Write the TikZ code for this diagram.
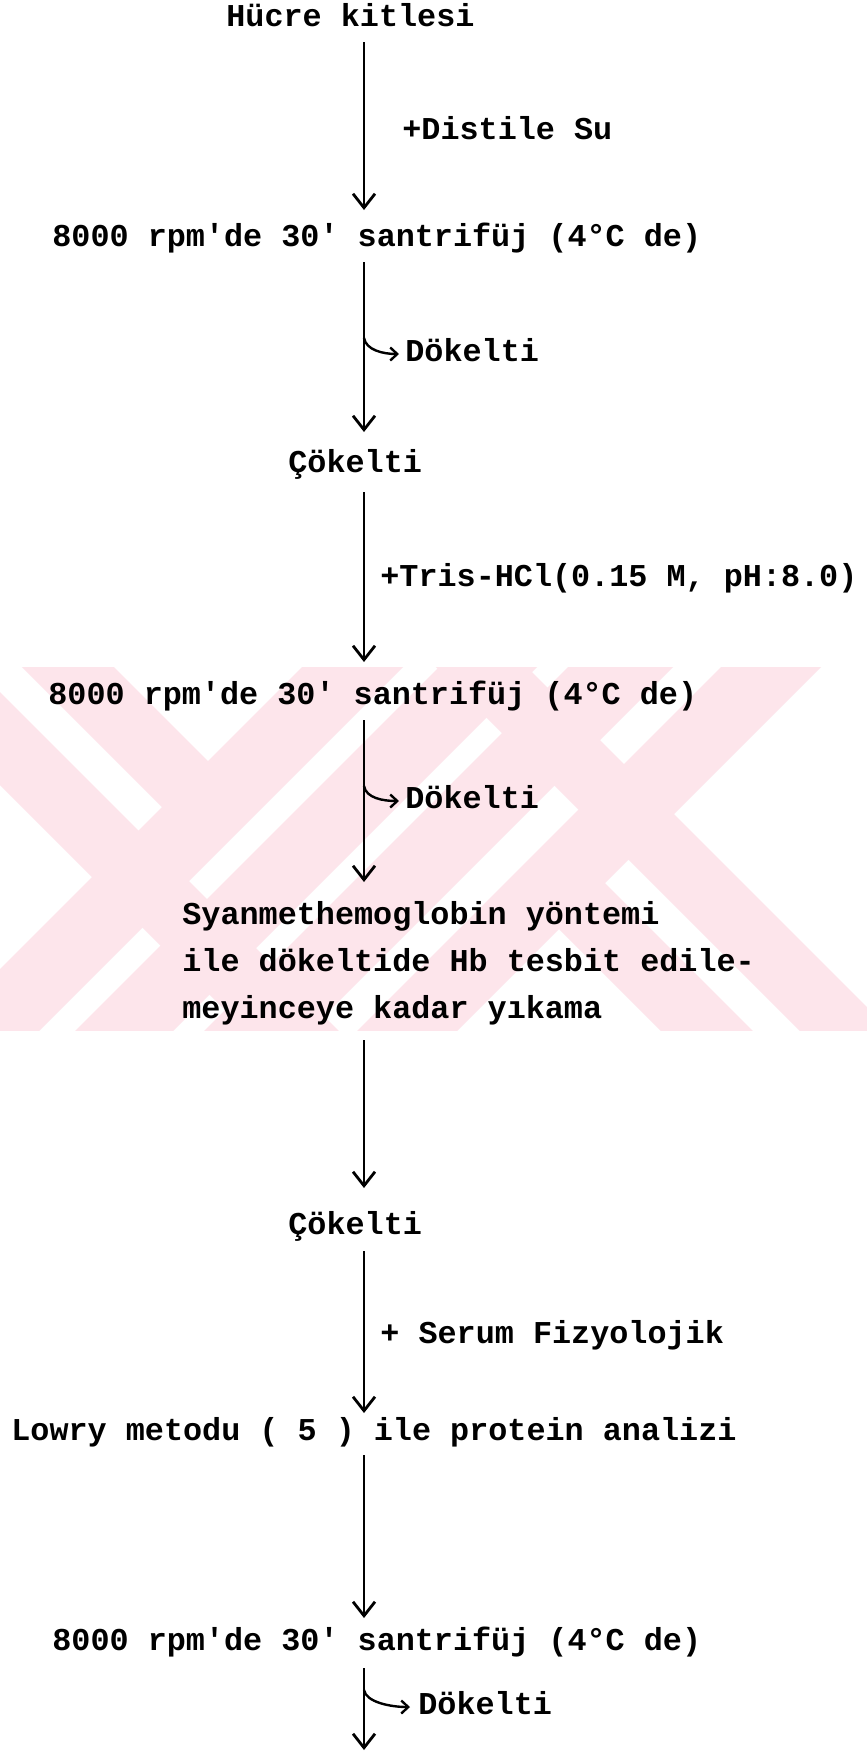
\documentclass[tikz,border=0pt]{standalone}
\usepackage{fontspec}
\setmonofont{Liberation Mono}
\usetikzlibrary{arrows.meta}
\definecolor{wmpink}{RGB}{253,229,235}
\begin{document}
\begin{tikzpicture}[x=0.5pt,y=-0.5pt,
  lbl/.style={anchor=base west, inner sep=0pt,
    font=\fontsize{15.9pt}{18pt}\ttfamily\bfseries},
  flow/.style={line width=1.4pt,
    -{Straight Barb[length=7pt,width=11pt,line width=1.4pt]}},
  side/.style={line width=1.2pt,
    -{Straight Barb[length=3.5pt,width=6.5pt,line width=1.2pt]}},
]
\useasboundingbox (0,0) rectangle (867,1752);
\fill[white] (0,0) rectangle (867,1752);

% pale background emblem made of diagonal bands
\begin{scope}
  \clip (0,667) rectangle (867,1030);
  \fill[wmpink] (-185,600) -- (-92,600) -- (408,1100) -- (315,1100) -- cycle;
  \fill[wmpink] (369,600) -- (460,600) -- (960,1100) -- (869,1100) -- cycle;
  \fill[wmpink] (369,600) -- (470,600) -- (-30,1100) -- (-131,1100) -- cycle;
  \fill[wmpink] (506,600) -- (604,600) -- (104,1100) -- (6,1100) -- cycle;
  \fill[wmpink] (635,600) -- (740,600) -- (240,1100) -- (135,1100) -- cycle;
  \fill[wmpink] (788,600) -- (888,600) -- (388,1100) -- (288,1100) -- cycle;
  \fill[wmpink] (-45,600) -- (47,600) -- (233.5,786.5) -- (187.5,832.5) -- cycle;
  \fill[wmpink] (812,1090) -- (720,1090) -- (533.5,903.5) -- (579.5,857.5) -- cycle;
\end{scope}

% steps
\node[lbl] (t1) at (226,26) {Hücre kitlesi};
\node[lbl] (l1) at (402,139) {+Distile Su};
\node[lbl] (t2) at (52,246) {8000 rpm'de 30' santrifüj (4°C de)};
\node[lbl] (d1) at (405,361) {Dökelti};
\node[lbl] (t3) at (288,472) {Çökelti};
\node[lbl] (l2) at (380,586) {+Tris-HCl(0.15 M, pH:8.0)};
\node[lbl] (t4) at (48,704) {8000 rpm'de 30' santrifüj (4°C de)};
\node[lbl] (d2) at (405,808) {Dökelti};
\node[lbl] (t5a) at (182,924) {Syanmethemoglobin yöntemi};
\node[lbl] (t5b) at (182,971) {ile dökeltide Hb tesbit edile-};
\node[lbl] (t5c) at (182,1018) {meyinceye kadar yıkama};
\node[lbl] (t6) at (288,1234) {Çökelti};
\node[lbl] (l3) at (380,1343) {+ Serum Fizyolojik};
\node[lbl] (t7) at (11,1440) {Lowry metodu ( 5 ) ile protein analizi};
\node[lbl] (t8) at (52,1650) {8000 rpm'de 30' santrifüj (4°C de)};
\node[lbl] (d3) at (418,1714) {Dökelti};

% connector end points on the main axis
\coordinate (s1) at (364,42);   \coordinate (e1) at (364,210);
\coordinate (s2) at (364,262);  \coordinate (e2) at (364,432);
\coordinate (s3) at (364,492);  \coordinate (e3) at (364,662);
\coordinate (s4) at (364,720);  \coordinate (e4) at (364,882);
\coordinate (s5) at (364,1040); \coordinate (e5) at (364,1188);
\coordinate (s6) at (364,1251); \coordinate (e6) at (364,1413);
\coordinate (s7) at (364,1455); \coordinate (e7) at (364,1618);
\coordinate (s8) at (364,1668); \coordinate (e8) at (364,1750);
% branch points and tips of the side outlets
\coordinate (b1) at (364,338);  \coordinate (k1) at (399,354);
\coordinate (b2) at (364,786);  \coordinate (k2) at (399,801);
\coordinate (b3) at (364,1690); \coordinate (k3) at (410,1707);

\draw[flow] (s1) -- (e1);
\draw[flow] (s2) -- (e2);
\draw[flow] (s3) -- (e3);
\draw[flow] (s4) -- (e4);
\draw[flow] (s5) -- (e5);
\draw[flow] (s6) -- (e6);
\draw[flow] (s7) -- (e7);
\draw[flow] (s8) -- (e8);

\draw[side] (b1) .. controls +(2,12) and +(-16,0) .. (k1);
\draw[side] (b2) .. controls +(2,12) and +(-16,0) .. (k2);
\draw[side] (b3) .. controls +(2,12) and +(-20,0) .. (k3);
\end{tikzpicture}
\end{document}
